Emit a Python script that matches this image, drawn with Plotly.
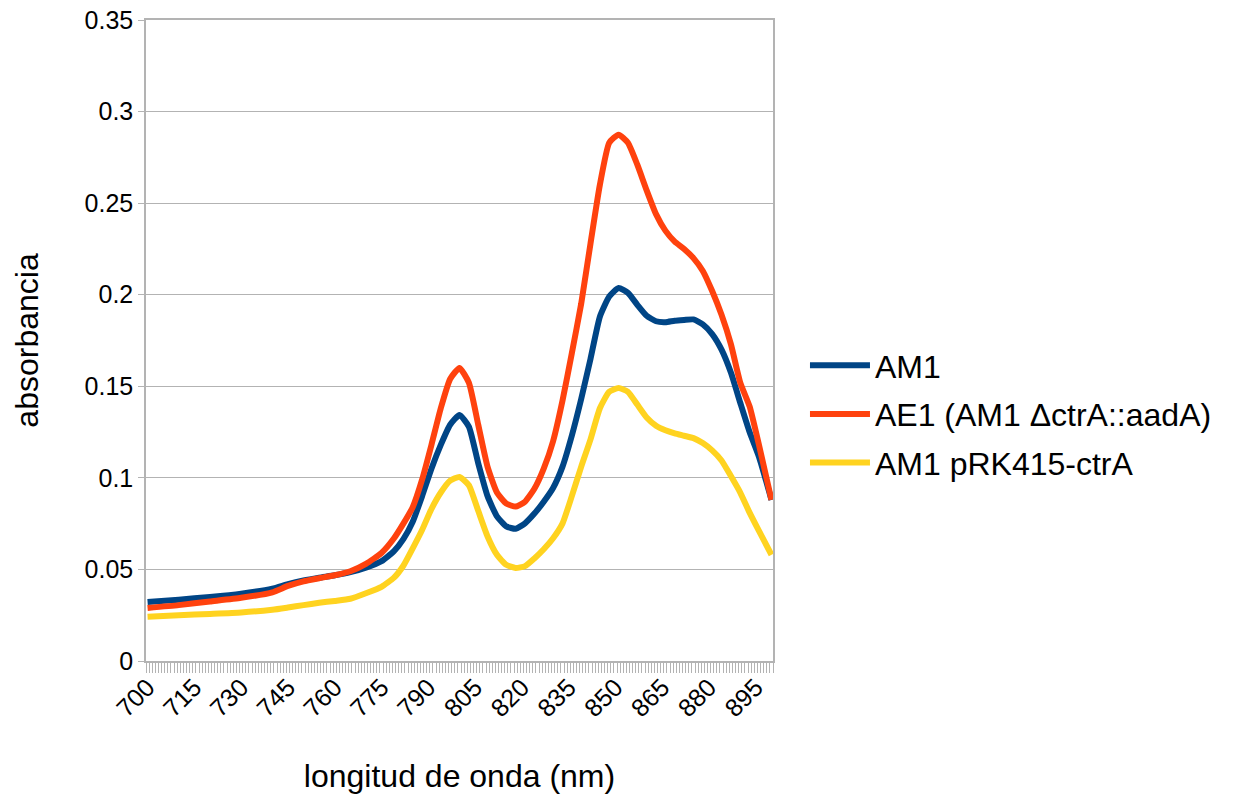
import plotly.graph_objects as go

wavelength = [700, 710, 720, 730, 740, 745, 750, 755, 760, 765, 770, 775, 779, 782, 785, 788,
              791, 794, 797, 800, 803, 806, 809, 812, 815, 818, 821, 824, 827, 830, 833, 836,
              839, 842, 845, 848, 851, 854, 857, 860, 863, 866, 869, 872, 875, 878, 881, 884,
              887, 890, 893, 896, 900]

am1 = [0.0322, 0.0335, 0.0350, 0.0368, 0.0395, 0.0420, 0.0440, 0.0455, 0.0468, 0.0485, 0.0510,
       0.0545, 0.0600, 0.0665, 0.0760, 0.0900, 0.1050, 0.1180, 0.1290, 0.1343, 0.1280, 0.1080,
       0.0900, 0.0790, 0.0735, 0.0722, 0.0752, 0.0805, 0.0870, 0.0945, 0.1060, 0.1230, 0.1430,
       0.1650, 0.1880, 0.1990, 0.2037, 0.2010, 0.1945, 0.1885, 0.1855, 0.1850, 0.1858, 0.1862,
       0.1865, 0.1838, 0.1785, 0.1700, 0.1575, 0.1410, 0.1250, 0.1115, 0.0880]

ae1 = [0.0290, 0.0305, 0.0325, 0.0345, 0.0375, 0.0410, 0.0435, 0.0452, 0.0468, 0.0490, 0.0530,
       0.0590, 0.0670, 0.0750, 0.0840, 0.0990, 0.1180, 0.1380, 0.1540, 0.1600, 0.1520, 0.1290,
       0.1060, 0.0920, 0.0860, 0.0843, 0.0870, 0.0940, 0.1050, 0.1200, 0.1420, 0.1680, 0.1950,
       0.2280, 0.2600, 0.2830, 0.2874, 0.2830, 0.2710, 0.2570, 0.2440, 0.2350, 0.2290, 0.2250,
       0.2200, 0.2130, 0.2020, 0.1890, 0.1730, 0.1520, 0.1390, 0.1180, 0.0880]

am1_prk = [0.0242, 0.0250, 0.0257, 0.0265, 0.0280, 0.0292, 0.0305, 0.0318, 0.0328, 0.0340, 0.0370,
           0.0405, 0.0455, 0.0520, 0.0615, 0.0715, 0.0830, 0.0920, 0.0985, 0.1005, 0.0960, 0.0820,
           0.0680, 0.0580, 0.0525, 0.0508, 0.0518, 0.0560, 0.0610, 0.0670, 0.0750, 0.0900, 0.1060,
           0.1210, 0.1380, 0.1470, 0.1490, 0.1470, 0.1400, 0.1330, 0.1285, 0.1260, 0.1243, 0.1230,
           0.1217, 0.1190, 0.1150, 0.1095, 0.1010, 0.0920, 0.0810, 0.0710, 0.0580]

series_names = ["AM1", "AE1 (AM1 \u0394ctrA::aadA)", "AM1 pRK415-ctrA"]
series_values = [am1, ae1, am1_prk]
series_colors = ["#004586", "#ff420e", "#ffd320"]

x_tickvals = list(range(700, 900, 15))
y_tickvals = [0, 0.05, 0.1, 0.15, 0.2, 0.25, 0.3, 0.35]
y_ticktext = ["0", "0.05", "0.1", "0.15", "0.2", "0.25", "0.3", "0.35"]

FONT = "Liberation Sans, Arial, sans-serif"

fig = go.Figure()
for i, (name, vals, col) in enumerate(zip(series_names, series_values, series_colors)):
    fig.add_trace(go.Scatter(
        x=wavelength, y=vals, name=name, mode="lines",
        line=dict(color=col, width=6, shape="spline", smoothing=0.5),
        legendgroup=f"g{i}",
    ))

fig.update_layout(
    width=1241, height=794,
    margin=dict(l=146, r=468, t=20, b=133, autoexpand=False),
    paper_bgcolor="white", plot_bgcolor="white",
    font=dict(family=FONT, color="black"),
    showlegend=True,
    legend=dict(
        x=1.051, y=(661 - 414) / 641, xanchor="left", yanchor="middle",
        font=dict(size=32, family=FONT, color="black"),
        tracegroupgap=4, traceorder="grouped",
        itemwidth=60,
        bgcolor="rgba(0,0,0,0)",
    ),
    xaxis=dict(
        range=[699.5, 900.5],
        automargin=False,
        tickvals=x_tickvals, ticktext=[str(v) for v in x_tickvals],
        tickangle=-45, ticks="",
        tickfont=dict(size=25, family=FONT, color="black"),
        showgrid=False, zeroline=False,
        showline=True, linecolor="#b3b3b3", linewidth=1.5, mirror=True,
        minor=dict(tick0=699.5, dtick=1, ticks="outside", ticklen=10,
                   tickcolor="#b3b3b3", tickwidth=1, showgrid=False),
        title=dict(text="longitud de onda (nm)", font=dict(size=32, family=FONT, color="black"),
                   standoff=44),
    ),
    yaxis=dict(
        range=[0, 0.35],
        automargin=False,
        tickvals=y_tickvals, ticktext=y_ticktext,
        ticks="outside", ticklen=6, tickcolor="#b3b3b3",
        tickfont=dict(size=25, family=FONT, color="black"),
        showgrid=True, gridcolor="#b3b3b3", gridwidth=1,
        zeroline=False,
        showline=True, linecolor="#b3b3b3", linewidth=1.5, mirror=True,
        title=dict(text="absorbancia", font=dict(size=32, family=FONT, color="black"),
                   standoff=36),
    ),
)

fig.write_html("out.html", config={"displayModeBar": False},
               post_script="document.body.style.margin='0';")
